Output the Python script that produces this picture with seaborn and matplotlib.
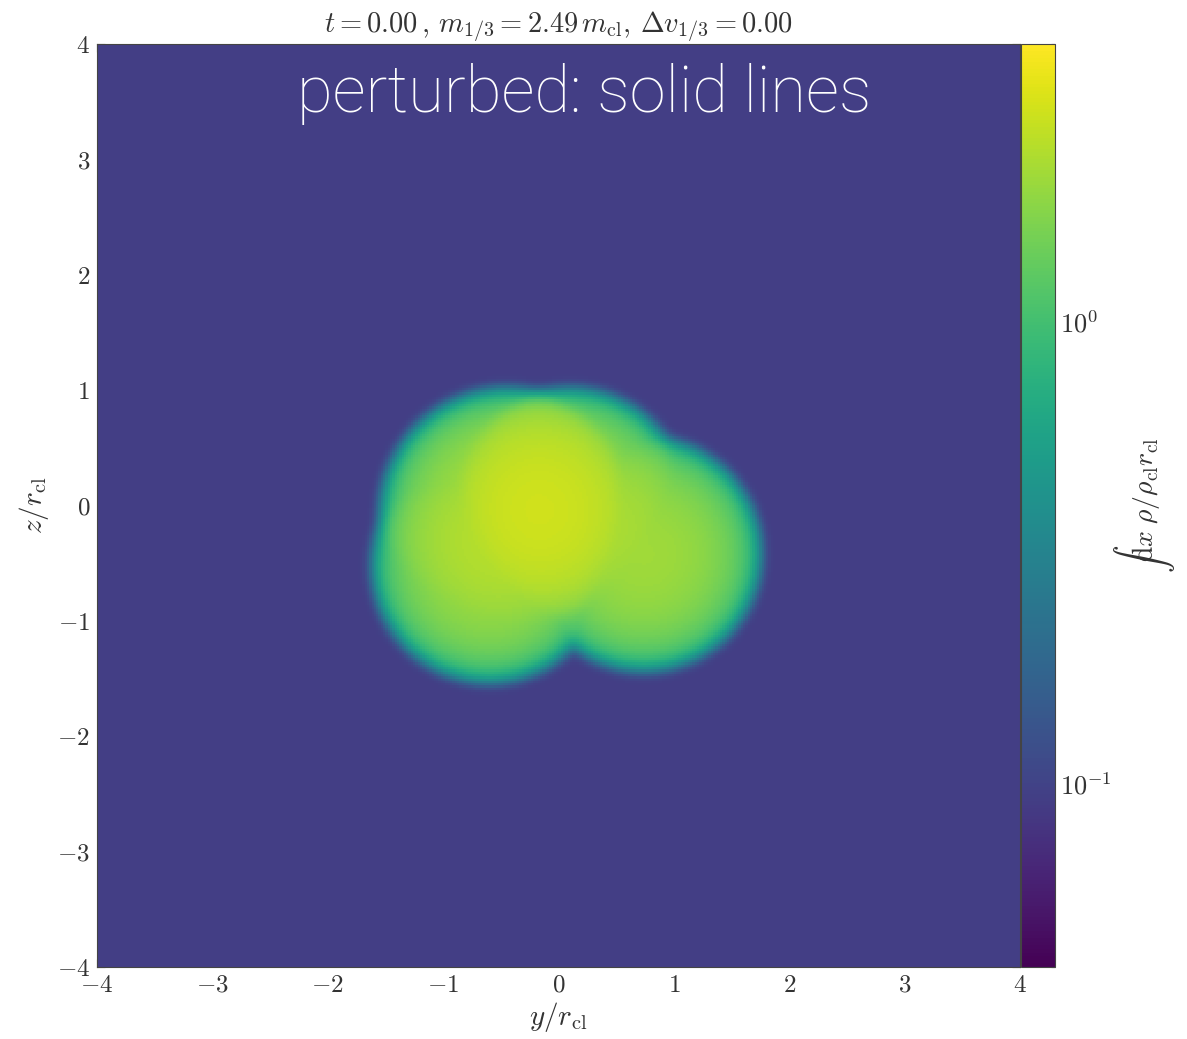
import numpy as np
import matplotlib
matplotlib.use("Agg")
import matplotlib.pyplot as plt
import seaborn as sns
from matplotlib.colors import LogNorm
from matplotlib.ticker import FixedLocator, NullFormatter

# ---------------- data ----------------
# cloud made of overlapping uniform spheres (units of r_cl), projected along x
sphere_y = [-0.45, 0.10, -0.60, 0.74]
sphere_z = [-0.08, 0.00, -0.52, -0.42]
sphere_x = [-0.30, 0.50, 0.00, 0.20]   # depth along line of sight
sphere_r = [1.08, 1.00, 1.00, 1.00]
rho_background = 0.0115                # ambient density / rho_cl
edge_width = 0.05                      # softening of the sphere surface
blur_sigma = 0.03                      # smoothing of the projected map

box_limits = [-4.0, 4.0]
axis_ticks = [-4, -3, -2, -1, 0, 1, 2, 3, 4]
cbar_limits = [0.04, 4.0]
cbar_ticks = [0.1, 1.0]
cbar_ticklabels = [r"$10^{-1}$", r"$10^{0}$"]
title_text = r"$t = 0.00\,,\, m_{1/3} = 2.49\,m_{\rm cl},\, \Delta v_{1/3} = 0.00$"
overlay_text = "perturbed: solid lines"
xlabel_text = r"$y/r_{\rm cl}$"
ylabel_text = r"$z/r_{\rm cl}$"
cbar_label_text = r"$\int\!{\rm d}x\; \rho/\rho_{\rm cl} r_{\rm cl}$"

# ---------------- build projected column density ----------------
N = 400
lo, hi = box_limits
cell = (hi - lo) / N
yc = lo + cell * (np.arange(N) + 0.5)
zc = hi - cell * (np.arange(N) + 0.5)          # top row = +4
Y, Z = np.meshgrid(yc, zc)
xs = np.linspace(lo, hi, 321)
dx = xs[1] - xs[0]
column = np.zeros_like(Y)
for xv in xs:
    rho = np.full_like(Y, rho_background)
    for cy, cz, cxx, R in zip(sphere_y, sphere_z, sphere_x, sphere_r):
        if abs(xv - cxx) > R + 6 * edge_width:
            continue
        r = np.sqrt((xv - cxx) ** 2 + (Y - cy) ** 2 + (Z - cz) ** 2)
        prof = 0.5 * (1.0 - np.tanh((r - R) / edge_width))
        rho = np.maximum(rho, prof)
    column += rho * dx

# light gaussian smoothing (separable)
k = np.arange(-8, 9) * cell
kern = np.exp(-0.5 * (k / blur_sigma) ** 2)
kern /= kern.sum()
pad = len(k) // 2
tmp = np.pad(column, pad, mode="edge")
tmp = np.apply_along_axis(lambda v: np.convolve(v, kern, mode="valid"), 1, tmp)
tmp = np.apply_along_axis(lambda v: np.convolve(v, kern, mode="valid"), 0, tmp)
column = tmp

# ---------------- figure ----------------
sns.set_style("ticks")
plt.rcParams["mathtext.fontset"] = "cm"
plt.rcParams["font.family"] = ["DejaVu Serif"]

fig = plt.figure(figsize=(11.87, 10.39), dpi=100)
ax = fig.add_axes([0.0817, 0.0693, 0.7776, 0.8884])
cax = fig.add_axes([0.8602, 0.0693, 0.0290, 0.8884])

sns.heatmap(column, ax=ax, cbar_ax=cax, cmap="viridis",
            norm=LogNorm(vmin=cbar_limits[0], vmax=cbar_limits[1]),
            xticklabels=False, yticklabels=False, rasterized=True)

for s in ax.spines.values():
    s.set_visible(True)
    s.set_linewidth(0.8)
    s.set_color("#444444")

def to_x(v):
    return (v - lo) / (hi - lo) * N

def to_y(v):
    return (hi - v) / (hi - lo) * N

minor_vals = np.round(np.arange(lo, hi + 1e-9, 0.2), 2)
ax.set_xticks([to_x(v) for v in axis_ticks])
ax.set_xticklabels([rf"${v}$" for v in axis_ticks])
ax.set_xticks([to_x(v) for v in minor_vals], minor=True)
ax.set_yticks([to_y(v) for v in axis_ticks])
ax.set_yticklabels([rf"${v}$" for v in axis_ticks], rotation=0)
ax.set_yticks([to_y(v) for v in minor_vals], minor=True)
ax.tick_params(which="both", direction="in", top=True, right=True,
               bottom=True, left=True, color="#333333", width=0.8,
               labelsize=18, labelcolor="#333333")
ax.tick_params(which="major", length=6)
ax.tick_params(which="minor", length=3)
ax.tick_params(axis="x", pad=5)
ax.tick_params(axis="y", pad=5)

ax.set_xlabel(xlabel_text, fontsize=21, color="#333333", labelpad=2)
ax.set_ylabel(ylabel_text, fontsize=21, color="#333333", labelpad=4)
ax.set_title(title_text, fontsize=20.5, color="#333333", pad=3)

cb = ax.collections[0].colorbar
cb.outline.set_linewidth(0.8)
cb.outline.set_edgecolor("#444444")
cb.set_ticks(cbar_ticks)
cb.set_ticklabels(cbar_ticklabels)
minor_cb = [v for d in (0.01, 0.1, 1.0) for v in d * np.arange(2, 10)
            if cbar_limits[0] <= v <= cbar_limits[1] and v not in cbar_ticks]
cax.yaxis.set_minor_locator(FixedLocator(minor_cb))
cax.yaxis.set_minor_formatter(NullFormatter())
cax.tick_params(which="both", direction="in", right=True, left=False,
                color="#333333", width=0.8, labelsize=19, labelcolor="#333333")
cax.tick_params(which="major", length=6)
cax.tick_params(which="minor", length=3)
cb.set_label(cbar_label_text, fontsize=20, color="#333333", labelpad=0, rotation=90)

fig.text(0.492, 0.892, overlay_text, ha="center", va="baseline",
         color="white", fontsize=47, family=["Roboto", "DejaVu Sans"],
         fontweight="light")

fig.savefig("out.png", dpi=100)
